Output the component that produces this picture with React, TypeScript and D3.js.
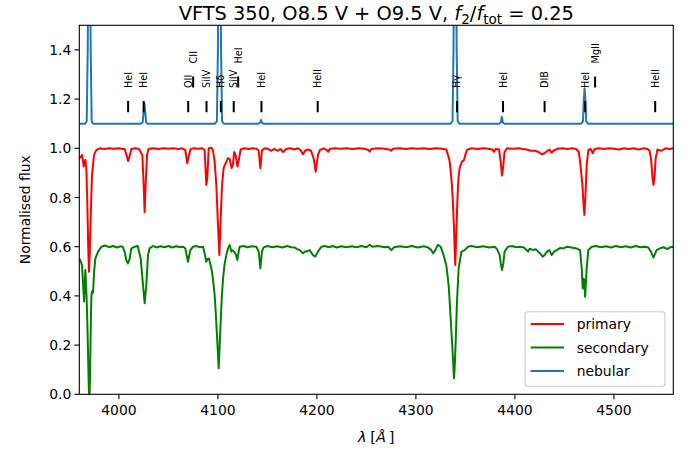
import React from 'react';
import * as d3 from 'd3';

// ---------------- data ----------------
const primary: [number, number][] = [
  [3960,0.959],[3961.5,0.965],[3962.7,0.973],[3963.6,0.955],[3964.4,0.926],[3965.3,0.945],[3966.1,0.953],[3967.1,0.919],[3968.1,0.78],[3969,0.6],[3969.8,0.498],[3970.6,0.58],[3971.5,0.72],[3972.8,0.89],[3974.9,0.973],[3977.2,0.993],[3980.6,1.0],[3985,0.997],[3990,1.0],[3995,0.998],[4000,1.0],[4004,0.997],[4005.8,0.997],[4008.2,0.966],[4009.2,0.948],[4010.9,0.97],[4012.6,0.997],[4016,1.0],[4020,0.998],[4023.7,0.973],[4025,0.851],[4026,0.74],[4027,0.851],[4028.4,0.973],[4030,0.997],[4035,1.0],[4040,0.997],[4045,1.0],[4050,0.998],[4055,1.0],[4060,0.997],[4064,1.0],[4067.1,0.993],[4069.1,0.939],[4070.8,0.973],[4072.5,0.997],[4076,1.0],[4080,0.998],[4084,1.0],[4086.6,0.993],[4087.5,0.92],[4088.3,0.851],[4089.3,0.878],[4090.7,1.0],[4093.4,1.002],[4095,0.993],[4096.7,0.946],[4098.4,0.851],[4099.8,0.716],[4101.5,0.566],[4102.8,0.716],[4104.2,0.851],[4105.8,0.92],[4108.5,0.946],[4110.2,0.96],[4112,0.955],[4113.8,0.92],[4115,0.93],[4116.5,0.985],[4118,0.97],[4119.8,0.926],[4121,0.95],[4123,0.995],[4127,1.0],[4131,0.997],[4135,1.0],[4139,0.998],[4141.2,0.99],[4142.9,0.919],[4144.5,0.99],[4147,1.0],[4151,0.997],[4154,0.99],[4157,0.998],[4160,0.99],[4163,0.997],[4166,0.985],[4169,0.997],[4173,1.0],[4177,0.995],[4181,1.0],[4184,0.99],[4186,0.976],[4188,0.99],[4191,0.995],[4194,0.99],[4196.7,0.959],[4198.8,0.905],[4201.1,0.973],[4203,0.993],[4207,1.0],[4210,0.993],[4211.5,0.986],[4213,0.997],[4218,1.0],[4224,0.998],[4230,1.0],[4236,0.997],[4242,1.0],[4248,0.998],[4252,0.993],[4253.3,0.986],[4255,0.997],[4262,1.0],[4268,0.998],[4273,0.995],[4275,0.99],[4277,0.998],[4284,1.0],[4290,0.997],[4296,1.0],[4302,0.998],[4308,1.0],[4314,0.997],[4320,1.0],[4326,0.998],[4330.7,0.995],[4333,0.965],[4334.1,0.946],[4335.3,0.9],[4336.4,0.851],[4337.4,0.78],[4338.5,0.675],[4339.2,0.58],[4339.8,0.526],[4340.8,0.65],[4341.8,0.78],[4343,0.88],[4344.2,0.92],[4346.5,0.946],[4348.6,0.952],[4350,0.975],[4351.5,0.993],[4356,1.0],[4362,0.997],[4368,1.0],[4373,0.998],[4377,0.995],[4379,0.986],[4380.5,0.997],[4384,0.995],[4385.5,0.95],[4387,0.889],[4388.3,0.93],[4389.5,0.985],[4392,1.0],[4398,0.998],[4404,1.0],[4408,0.997],[4412,0.995],[4416,0.99],[4420,0.99],[4424,0.985],[4427,0.976],[4430,0.98],[4433,0.99],[4435,0.995],[4437,0.982],[4439,0.99],[4443,0.998],[4448,1.0],[4453,0.997],[4458,1.0],[4462,0.997],[4464.5,0.985],[4465.8,0.946],[4467,0.9],[4468.2,0.851],[4469.2,0.78],[4470.2,0.729],[4471.2,0.8],[4472.5,0.932],[4474.2,0.993],[4476.5,0.997],[4478.6,0.98],[4480.5,0.997],[4485,1.0],[4490,0.997],[4495,1.0],[4500,0.998],[4505,0.995],[4510,1.0],[4515,0.997],[4520,1.0],[4525,0.995],[4530,1.0],[4534,0.997],[4536,0.99],[4537.5,0.959],[4539,0.88],[4539.9,0.851],[4541,0.88],[4542.2,0.959],[4544,0.995],[4548,0.99],[4552,1.0],[4556,0.997],[4560,1.0],
];

const secondary: [number, number][] = [
  [3960,0.552],[3961.5,0.54],[3962.7,0.525],[3963.8,0.45],[3964.8,0.377],[3965.5,0.44],[3966.1,0.505],[3966.8,0.45],[3967.5,0.377],[3968.2,0.28],[3968.8,0.173],[3969.4,0.06],[3969.8,0.0],[3970.4,0.0],[3970.8,0.06],[3971.2,0.173],[3971.7,0.3],[3972.2,0.4],[3973,0.42],[3973.9,0.413],[3975,0.5],[3976.2,0.552],[3978.9,0.579],[3982.3,0.6],[3986,0.605],[3990,0.598],[3994,0.603],[3998,0.597],[4002,0.602],[4004,0.598],[4005.8,0.579],[4007.5,0.545],[4009.2,0.532],[4010.9,0.552],[4012.6,0.593],[4016,0.6],[4019,0.603],[4022,0.552],[4024.4,0.443],[4026,0.37],[4027.7,0.443],[4029.4,0.566],[4031,0.593],[4034.5,0.603],[4038,0.597],[4042,0.602],[4046,0.598],[4050,0.603],[4054,0.597],[4058,0.602],[4062,0.598],[4065,0.6],[4067.1,0.593],[4069.8,0.539],[4072.2,0.586],[4074.9,0.6],[4078,0.603],[4082,0.598],[4085,0.6],[4086.6,0.573],[4088.3,0.539],[4089.5,0.55],[4091,0.552],[4093.4,0.512],[4095,0.47],[4096.7,0.404],[4098,0.32],[4099.4,0.214],[4100.8,0.106],[4101.8,0.2],[4102.8,0.295],[4104,0.4],[4105.2,0.471],[4106.8,0.53],[4108.5,0.566],[4110,0.59],[4111.9,0.607],[4113.6,0.58],[4115,0.585],[4116.3,0.58],[4118,0.57],[4119.6,0.546],[4121,0.58],[4122,0.6],[4126,0.603],[4130,0.598],[4134,0.602],[4138.8,0.6],[4141.2,0.58],[4142.9,0.512],[4144.5,0.58],[4146.2,0.597],[4150,0.603],[4155,0.598],[4160,0.602],[4165,0.597],[4170,0.603],[4174,0.598],[4177.5,0.597],[4180,0.59],[4182.6,0.586],[4184,0.58],[4186,0.573],[4187.8,0.58],[4189.3,0.58],[4192.7,0.586],[4196,0.566],[4198.4,0.56],[4201.1,0.58],[4204.5,0.6],[4208,0.603],[4212,0.598],[4216,0.603],[4220,0.597],[4225,0.602],[4230,0.598],[4235,0.602],[4240,0.598],[4245,0.603],[4250,0.598],[4253.3,0.608],[4256,0.6],[4262,0.603],[4268,0.598],[4272,0.6],[4275.2,0.586],[4278,0.598],[4284,0.602],[4290,0.598],[4296,0.603],[4302,0.597],[4308,0.602],[4312,0.598],[4315.6,0.586],[4317.3,0.573],[4319.6,0.586],[4322.3,0.608],[4325,0.6],[4327.4,0.573],[4329,0.55],[4330.7,0.525],[4332,0.48],[4333.1,0.443],[4334.1,0.38],[4335.1,0.308],[4336.1,0.24],[4337.1,0.173],[4338,0.1],[4338.5,0.065],[4339.3,0.12],[4340.2,0.214],[4341.5,0.377],[4343.2,0.512],[4345.9,0.579],[4349.2,0.586],[4352.6,0.6],[4356,0.603],[4362,0.598],[4368,0.602],[4374,0.597],[4379.5,0.6],[4382,0.59],[4384.6,0.566],[4385.8,0.53],[4387,0.505],[4388.2,0.53],[4389.6,0.58],[4393,0.6],[4397,0.603],[4401,0.598],[4405.2,0.6],[4409,0.597],[4412,0.586],[4413.2,0.58],[4415,0.592],[4418.7,0.586],[4421,0.59],[4423.7,0.579],[4426,0.57],[4428.1,0.559],[4430,0.566],[4432.1,0.579],[4434.8,0.586],[4437.2,0.566],[4439.5,0.58],[4442.2,0.586],[4446,0.595],[4449,0.593],[4453,0.6],[4457,0.597],[4462.4,0.593],[4465.8,0.586],[4467.5,0.512],[4468.5,0.43],[4469.5,0.47],[4470.2,0.46],[4470.9,0.397],[4471.7,0.45],[4472.5,0.512],[4474.2,0.586],[4477.6,0.6],[4482,0.603],[4487,0.598],[4492,0.602],[4497,0.597],[4502,0.603],[4507,0.598],[4512,0.602],[4517,0.597],[4522,0.603],[4527,0.598],[4531,0.6],[4534.8,0.597],[4537.5,0.579],[4539.9,0.556],[4541.5,0.57],[4543.2,0.586],[4546.6,0.593],[4550,0.598],[4554,0.59],[4557,0.598],[4560,0.6],
];

const nebular: [number, number][] = [
  [3960,1.1],[3966,1.1],[3967.5,1.11],[3968.5,1.4],[3969.2,1.9],[3970,2.0],[3970.8,1.9],[3971.5,1.4],[3972.5,1.11],[3974,1.1],[4022,1.1],[4024,1.105],[4025,1.15],[4025.8,1.183],[4026.6,1.15],[4027.5,1.105],[4029,1.1],[4097,1.1],[4099,1.11],[4100,1.4],[4100.8,1.9],[4101.6,2.0],[4102.4,1.9],[4103.2,1.4],[4104.2,1.11],[4106,1.1],[4141,1.1],[4142.8,1.105],[4143.6,1.115],[4144.4,1.105],[4146,1.1],[4335,1.1],[4337,1.11],[4338,1.4],[4338.8,1.9],[4339.6,2.0],[4340.4,1.9],[4341.2,1.4],[4342.2,1.11],[4344,1.1],[4384,1.1],[4385.8,1.105],[4386.8,1.128],[4387.8,1.105],[4389.5,1.1],[4467,1.1],[4468.8,1.11],[4469.6,1.2],[4470.4,1.244],[4471.2,1.2],[4472,1.11],[4473.8,1.1],[4560,1.1],
];

const lineNames = ['HeI','HeI','OII','CII','SiIV','H\u03b4','SiIV','HeI','HeI','HeII','H\u03b3','HeI','DIB','HeI','MgII','HeII'];
const lineWaves = [4009.3, 4025, 4070, 4075, 4088.5, 4103, 4116, 4120.5, 4144, 4200.8, 4341.5, 4388, 4430, 4471, 4481, 4541.7];
const lineLevels = [0, 0, 0, 1, 0, 0, 0, 1, 0, 0, 0, 0, 0, 0, 1, 0];

const xTicks = [4000, 4100, 4200, 4300, 4400, 4500];
const yTicks = [0.0, 0.2, 0.4, 0.6, 0.8, 1.0, 1.2, 1.4];

const seriesNames = ['primary', 'secondary', 'nebular'];
const seriesColors = ['#ff0000', '#008000', '#1f77b4'];

// ---------------- chart ----------------
const W = 691, H = 454;
const L = 79.3, R = 673.3, T = 25.3, B = 394.3;
const FONT = 'DejaVu Sans, sans-serif';

export default function App() {
  const x = d3.scaleLinear().domain([3960, 4560]).range([L, R]);
  const y = d3.scaleLinear().domain([0, 1.5]).range([B, T]);
  const line = d3.line<[number, number]>().x(d => x(d[0])).y(d => y(d[1]));
  const series = [primary, secondary, nebular];

  return (
    <svg width={W} height={H} style={{ position: 'absolute', left: 0, top: 0, background: '#fff' }}
      fontFamily={FONT}>
      <defs>
        <clipPath id="plotclip"><rect x={L} y={T} width={R - L} height={B - T} /></clipPath>
      </defs>
      <rect x={0} y={0} width={W} height={H} fill="#fff" />

      <g clipPath="url(#plotclip)">
        {series.map((s, i) => (
          <path key={i} d={line(s) || ''} fill="none" stroke={seriesColors[i]} strokeWidth={2}
            strokeLinejoin="round" strokeLinecap="butt" />
        ))}
        {lineWaves.map((w, i) => {
          const lv = lineLevels[i] * 0.1;
          return (
            <g key={i}>
              <line x1={x(w)} x2={x(w)} y1={y(1.147 + lv)} y2={y(1.192 + lv)} stroke="#000" strokeWidth={2} />
              <text transform={`translate(${x(w)},${y(1.245 + lv)}) rotate(-90)`} fontSize={9.7}
                textAnchor="start" dominantBaseline="central" fill="#000">{lineNames[i]}</text>
            </g>
          );
        })}
      </g>

      {/* frame */}
      <rect x={L} y={T} width={R - L} height={B - T} fill="none" stroke="#000" strokeWidth={1.1} />

      {/* x ticks */}
      {xTicks.map(t => (
        <g key={t}>
          <line x1={x(t)} x2={x(t)} y1={B} y2={B + 4.9} stroke="#000" strokeWidth={1.1} />
          <text x={x(t)} y={B + 21} fontSize={13.9} textAnchor="middle" fill="#000">{t}</text>
        </g>
      ))}
      {/* y ticks */}
      {yTicks.map(t => (
        <g key={t}>
          <line x1={L - 4.9} x2={L} y1={y(t)} y2={y(t)} stroke="#000" strokeWidth={1.1} />
          <text x={L - 8} y={y(t)} fontSize={13.9} textAnchor="end" dominantBaseline="central" fill="#000">{t.toFixed(1)}</text>
        </g>
      ))}

      {/* axis labels */}
      <text transform={`translate(24.5,${(T + B) / 2}) rotate(-90)`} fontSize={13.9} textAnchor="middle"
        dominantBaseline="central" fill="#000">Normalised flux</text>
      <text x={(L + R) / 2} y={442} fontSize={14.5} textAnchor="middle" fill="#000">
        <tspan fontStyle="italic">{'\u03bb'}</tspan><tspan>{'\u2005['}</tspan><tspan fontStyle="italic">{'\u00c5'}</tspan><tspan>{'\u2009]'}</tspan>
      </text>

      {/* title */}
      <text x={(L + R) / 2} y={19.5} fontSize={19.4} textAnchor="middle" fill="#000">
        <tspan>VFTS 350, O8.5 V + O9.5 V, </tspan>
        <tspan fontStyle="italic">f</tspan>
        <tspan fontSize={13.6} dy={4}>2</tspan>
        <tspan dy={-4}>/</tspan>
        <tspan fontStyle="italic">f</tspan>
        <tspan fontSize={13.6} dy={4}>tot</tspan>
        <tspan dy={-4}> = 0.25</tspan>
      </text>

      {/* legend */}
      <g>
        <rect x={525} y={311.7} width={140} height={74.5} rx={3} fill="#fff" fillOpacity={0.8} stroke="#cccccc" strokeWidth={1.1} />
        {seriesNames.map((n, i) => (
          <g key={n}>
            <line x1={530.7} x2={564} y1={324 + i * 23.5} y2={324 + i * 23.5} stroke={seriesColors[i]} strokeWidth={2} />
            <text x={576.7} y={324 + i * 23.5} fontSize={13.9} dominantBaseline="central" fill="#000">{n}</text>
          </g>
        ))}
      </g>
    </svg>
  );
}
